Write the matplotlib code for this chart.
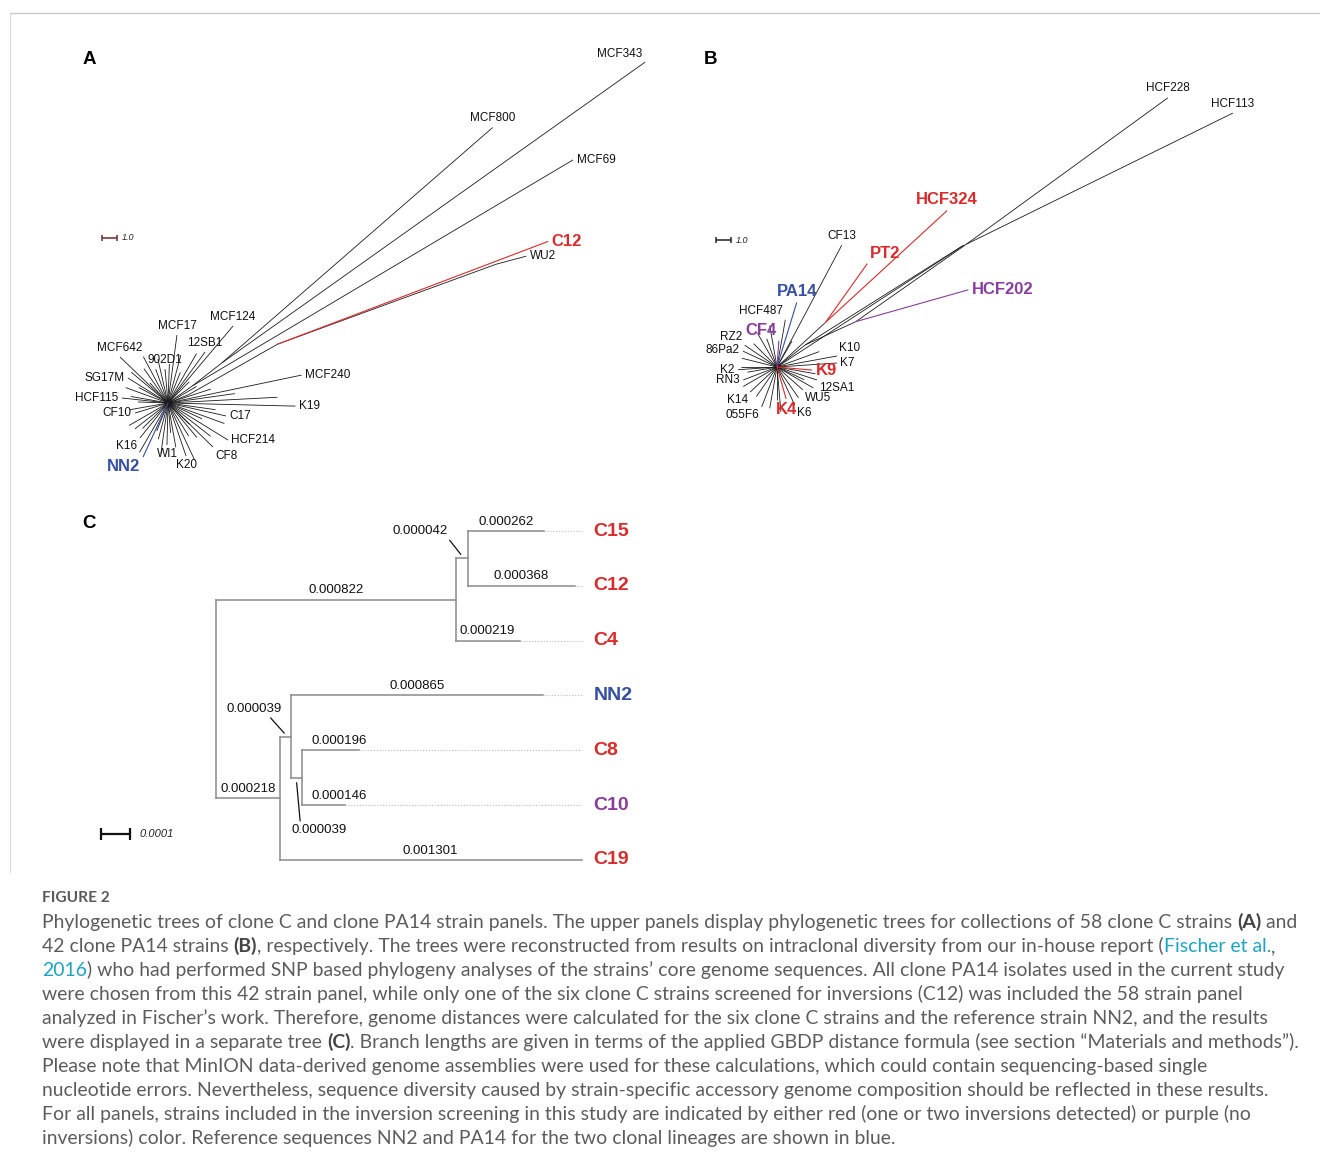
import numpy as np
import matplotlib
matplotlib.use("Agg")
import matplotlib.pyplot as plt

# ---------------------------------------------------------------- data
# Panel A: unrooted tree, 58 clone C strains. (node, parent, angle deg, branch length)
A_EDGES = [
    ("iL", "root", 35.0, 2.0), ("iM", "iL", 38.0, 2.5),
    ("MCF800", "iM", 41.0, 23.9), ("MCF343", "iM", 35.4, 34.6),
    ("MCF69", "iL", 30.7, 29.5),
    ("iC", "root", 22.0, 1.5), ("iC2", "iC", 29.6, 6.8),
    ("C12", "iC2", 20.8, 19.3), ("iW", "iC2", 20.1, 15.5), ("WU2", "iW", 15.0, 2.1),
    ("MCF240", "root", 11.8, 9.1), ("K19", "root", -1.4, 8.5),
    ("C17", "root", -12.6, 3.96), ("HCF214", "root", -31.7, 4.7),
    ("CF8", "root", -44.4, 4.2), ("K20", "root", -71.2, 3.73),
    ("WI1", "root", -91.4, 2.8), ("NN2", "root", -114.8, 3.97),
    ("K16", "root", -128.7, 2.99), ("CF10", "root", -163.0, 2.3),
    ("HCF115", "root", 173.8, 3.09), ("SG17M", "root", 148.0, 3.15),
    ("MCF642", "root", 136.2, 4.43), ("902D1", "root", 95.0, 2.27),
    ("MCF17", "root", 82.5, 4.57), ("12SB1", "root", 54.0, 4.2),
    ("MCF124", "root", 49.8, 6.72), ("_a1", "root", 3.0, 7.3),
]
A_UNL_ANG = [170, 160, 152, 140, 125, 118, 110, 103, 88, 75, 68, 60, 45, 18, 8, -8, -20, -25,
             -38, -50, -58, -65, -80, -85, -98, -105, -120, -135, -142, -150, -170, 178, 132,
             -112, -45, 30]
A_UNL_LEN = [2.5, 3.0, 2.2, 3.2, 2.8, 3.5, 2.4, 3.0, 2.6, 3.3, 2.2, 3.8, 2.0, 3.0, 4.5, 3.2, 4.0,
             2.5, 3.6, 3.0, 2.6, 4.2, 3.0, 2.0, 3.4, 2.5, 3.8, 2.4, 2.8, 3.0, 2.6, 2.0, 1.8, 2.0,
             2.0, 2.2]
A_RED = ["C12"]
A_BLUE = ["NN2"]
A_PURPLE = []

# Panel B: unrooted tree, 42 clone PA14 strains
B_EDGES = [
    ("b1", "root", 38.0, 2.4), ("b2", "b1", 24.7, 3.7), ("HCF202", "b2", 15.8, 7.8),
    ("b3", "b2", 35.0, 9.0), ("HCF228", "b3", 36.0, 16.6), ("HCF113", "b3", 26.2, 19.8),
    ("_u1", "b1", 32.2, 12.4), ("_u2", "root", 33.1, 14.9),
    ("b6", "root", 42.6, 4.4), ("PT2", "b6", 54.6, 4.8), ("HCF324", "b6", 42.6, 11.0),
    ("CF13", "root", 62.0, 9.2), ("PA14", "root", 73.0, 4.5), ("HCF487", "root", 80.0, 3.2),
    ("CF4", "root", 86.0, 1.75), ("RZ2", "root", 146.0, 2.6), ("86Pa2", "root", 166.0, 2.4),
    ("K2", "root", -176.0, 2.6), ("RN3", "root", -159.0, 2.4), ("K14", "root", -137.0, 2.45),
    ("055F6", "root", -111.0, 2.85), ("K4", "root", -74.0, 2.2), ("K6", "root", -65.0, 2.8),
    ("WU5", "root", -41.5, 2.3), ("12SA1", "root", -18.0, 2.8), ("K9", "root", -5.0, 2.34),
    ("K7", "root", 3.8, 4.0), ("K10", "root", 10.4, 4.07),
]
B_UNL_ANG = [120, 110, 100, 135, 155, 180, -170, -150, -125, -100, -90, -85, -55, -30, -25, 20, 60, -10]
B_UNL_LEN = [2.6, 2.0, 2.8, 2.2, 2.5, 2.4, 2.0, 2.6, 2.4, 2.8, 2.2, 3.0, 2.5, 2.8, 2.0, 3.0, 2.0, 2.6]
B_RED = ["HCF324", "PT2", "K9", "K4"]
B_BLUE = ["PA14"]
B_PURPLE = ["CF4", "HCF202"]

# Panel C: rooted tree (name, branch length, children)
C_TREE = ("root", 0.0, [
    ("n1", 0.000822, [
        ("n2", 0.000042, [("C15", 0.000262, []), ("C12", 0.000368, [])]),
        ("C4", 0.000219, []),
    ]),
    ("n3", 0.000218, [
        ("n4", 0.000039, [
            ("NN2", 0.000865, []),
            ("n5", 0.000039, [("C8", 0.000196, []), ("C10", 0.000146, [])]),
        ]),
        ("C19", 0.001301, []),
    ]),
])
C_RED = ["C15", "C12", "C4", "C8", "C19"]
C_BLUE = ["NN2"]
C_PURPLE = ["C10"]
C_ALIGN = 0.001254          # tip labels aligned here (longer branches truncated)
C_SCALE_BAR = 0.0001
AB_SCALE_BAR = 1.0

CAPTION_LINES = [
    [("Phylogenetic trees of clone C and clone PA14 strain panels. The upper panels display phylogenetic trees for collections of 58 clone C strains ", "n"), ("(A)", "b"), (" and", "n")],
    [("42 clone PA14 strains ", "n"), ("(B)", "b"), (", respectively. The trees were reconstructed from results on intraclonal diversity from our in-house report (", "n"), ("Fischer et al.", "l"), (",", "n")],
    [("2016", "l"), (") who had performed SNP based phylogeny analyses of the strains\u2019 core genome sequences. All clone PA14 isolates used in the current study", "n")],
    [("were chosen from this 42 strain panel, while only one of the six clone C strains screened for inversions (C12) was included the 58 strain panel", "n")],
    [("analyzed in Fischer\u2019s work. Therefore, genome distances were calculated for the six clone C strains and the reference strain NN2, and the results", "n")],
    [("were displayed in a separate tree ", "n"), ("(C)", "b"), (". Branch lengths are given in terms of the applied GBDP distance formula (see section \u201cMaterials and methods\u201d).", "n")],
    [("Please note that MinION data-derived genome assemblies were used for these calculations, which could contain sequencing-based single", "n")],
    [("nucleotide errors. Nevertheless, sequence diversity caused by strain-specific accessory genome composition should be reflected in these results.", "n")],
    [("For all panels, strains included in the inversion screening in this study are indicated by either red (one or two inversions detected) or purple (no", "n")],
    [("inversions) color. Reference sequences NN2 and PA14 for the two clonal lineages are shown in blue.", "n")],
]

# ---------------------------------------------------------------- style
W, H, DPI = 1320, 1167, 100
RED, BLUE, PURPLE = "#dc2a2a", "#3550a4", "#8a3d9e"
TREE_FONT = ["Liberation Sans", "DejaVu Sans"]
CAP_FONT = ["Lato", "DejaVu Sans"]

LABEL_ANCHOR_A = {"MCF343": "NW", "MCF800": "N", "MCF69": "E", "C12": "E", "WU2": "E",
                  "MCF240": "E", "K19": "E", "C17": "E", "HCF214": "E", "CF8": "SE",
                  "K20": "S", "WI1": "S", "NN2": "SW", "K16": "SW", "CF10": "W",
                  "HCF115": "W", "SG17M": "W", "MCF642": "N", "902D1": "N", "MCF17": "N",
                  "12SB1": "N", "MCF124": "N"}
LABEL_ANCHOR_B = {"HCF228": "N", "HCF113": "N", "HCF324": "N", "PT2": "NE", "CF13": "N",
                  "HCF202": "E", "PA14": "N", "HCF487": "NW", "CF4": "NW", "RZ2": "NW",
                  "86Pa2": "NW", "K2": "W", "RN3": "W", "K14": "SW", "055F6": "SW", "K4": "S",
                  "K6": "SE", "WU5": "SE", "12SA1": "SE", "K9": "E", "K7": "E", "K10": "NE"}
COMPASS = {"N": (0, 1, "center", "bottom"), "S": (0, -1, "center", "top"),
           "E": (1, 0, "left", "center"), "W": (-1, 0, "right", "center"),
           "NE": (0.7, 0.7, "left", "bottom"), "NW": (-0.7, 0.7, "right", "bottom"),
           "SE": (0.7, -0.7, "left", "top"), "SW": (-0.7, -0.7, "right", "top")}

fig = plt.figure(figsize=(W / DPI, H / DPI), dpi=DPI)
fig.patch.set_facecolor("white")


def FX(x):
    return x / W


def FY(y):
    return 1 - y / H


def pixel_axes(left, top, width, height, ox, oy, sx, sy, y_down=False):
    """Axes over a pixel box; data origin at pixel (ox, oy), sx/sy pixels per unit."""
    ax = fig.add_axes([FX(left), FY(top + height), width / W, height / H])
    ax.set_xlim((left - ox) / sx, (left + width - ox) / sx)
    if y_down:
        ax.set_ylim((top + height - oy) / sy, (top - oy) / sy)
    else:
        ax.set_ylim((oy - top - height) / sy, (oy - top) / sy)
    ax.set_axis_off()
    return ax


def color_of(name, red, blue, purple):
    if name in red:
        return RED
    if name in blue:
        return BLUE
    if name in purple:
        return PURPLE
    return None


def draw_unrooted(ax, edges, unl_ang, unl_len, anchors, red, blue, purple, lc):
    pos = {"root": np.zeros(2)}
    parents = set(p for _, p, _, _ in edges)
    for node, parent, ang, length in edges:
        a = np.deg2rad(ang)
        pos[node] = pos[parent] + length * np.array([np.cos(a), np.sin(a)])
    for ang, length in zip(unl_ang, unl_len):
        a = np.deg2rad(ang)
        ax.plot([0, length * np.cos(a)], [0, length * np.sin(a)], color=lc, lw=0.6,
                solid_capstyle="butt", zorder=2)
    for node, parent, ang, length in edges:
        c = color_of(node, red, blue, purple)
        p0, p1 = pos[parent], pos[node]
        ax.plot([p0[0], p1[0]], [p0[1], p1[1]], color=c or lc, lw=0.8 if c else 0.6,
                solid_capstyle="butt", zorder=3 if c else 2)
        if node in parents or node.startswith("_"):
            continue
        dx, dy, ha, va = COMPASS[anchors[node]]
        if c:
            ax.annotate(node, xy=p1, xytext=(dx * 2.5, dy * 2.5), textcoords="offset points",
                        ha=ha, va=va, fontsize=12, fontweight="bold", color=c,
                        family=TREE_FONT, annotation_clip=False)
        else:
            ax.annotate(node, xy=p1, xytext=(dx * 2.5, dy * 2.5), textcoords="offset points",
                        ha=ha, va=va, fontsize=8.5, color="#111111", family=TREE_FONT,
                        annotation_clip=False)


def scale_bar_unrooted(ax, x, y, color):
    ax.plot([x, x + AB_SCALE_BAR], [y, y], color=color, lw=1.1, solid_capstyle="butt")
    for xx in (x, x + AB_SCALE_BAR):
        ax.plot([xx, xx], [y - 0.22, y + 0.22], color=color, lw=1.1, solid_capstyle="butt")
    ax.text(x + AB_SCALE_BAR + 0.35, y, f"{AB_SCALE_BAR:.1f}", fontsize=6.5, style="italic",
            ha="left", va="center", color="#222222", family=TREE_FONT)


# ---------------------------------------------------------------- panel A
SA = 15.0  # pixels per unit
axA = pixel_axes(40, 20, 650, 480, 168, 403, SA, SA)
draw_unrooted(axA, A_EDGES, A_UNL_ANG, A_UNL_LEN, LABEL_ANCHOR_A, A_RED, A_BLUE, A_PURPLE, "#1a1a1a")
scale_bar_unrooted(axA, (102 - 168) / SA, (403 - 238) / SA, "#6e2b2b")

# ---------------------------------------------------------------- panel B
axB = pixel_axes(690, 20, 620, 470, 777, 367, SA, SA)
draw_unrooted(axB, B_EDGES, B_UNL_ANG, B_UNL_LEN, LABEL_ANCHOR_B, B_RED, B_BLUE, B_PURPLE, "#1a1a1a")
scale_bar_unrooted(axB, (716 - 777) / SA, (367 - 240) / SA, "#222222")

# ---------------------------------------------------------------- panel C
SCX = 291600.0   # pixels per substitution unit
SCY = 54.83      # pixels per tip
axC = pixel_axes(80, 505, 600, 375, 216, 531, SCX, SCY, y_down=True)
CLINE = "#8a8a8a"

nodes = {}
leaves = []


def layout(node, x0):
    name, L, kids = node
    x1 = x0 + L
    if not kids:
        y = float(len(leaves))
        leaves.append(name)
    else:
        ys = [layout(k, x1) for k in kids]
        y = (ys[0] + ys[-1]) / 2
    nodes[name] = dict(x0=x0, x1=x1, y=y, L=L, kids=[k[0] for k in kids])
    return y


layout(C_TREE, 0.0)

CALLOUT = {  # label centre offset, leader start on label (relpos), leader end (pixels)
    "n2": dict(text=(-42, -27), rel=(1.0, 0.0), tip=(-1, -4)),
    "n4": dict(text=(-31, -27.5), rel=(0.75, 0.0), tip=(-1, -3.5)),
    "n5": dict(text=(22, 52), rel=(0.17, 1.0), tip=(0, 5)),
}

for name, nd in nodes.items():
    y = nd["y"]
    if nd["kids"]:
        ys = [nodes[k]["y"] for k in nd["kids"]]
        axC.plot([nd["x1"], nd["x1"]], [min(ys), max(ys)], color=CLINE, lw=1.1,
                 solid_capstyle="projecting")
    if name == "root":
        continue
    xe = min(nd["x1"], C_ALIGN)
    axC.plot([nd["x0"], xe], [y, y], color=CLINE, lw=1.1, solid_capstyle="projecting")
    if not nd["kids"]:
        if xe < C_ALIGN:
            axC.plot([xe, C_ALIGN], [y, y], color="#b8b8b8", lw=0.8, ls=(0, (1, 1.6)))
        axC.annotate(name, xy=(C_ALIGN, y), xytext=(8.5, 0), textcoords="offset points",
                     ha="left", va="center", fontsize=14, fontweight="bold",
                     color=color_of(name, C_RED, C_BLUE, C_PURPLE), family=TREE_FONT)
    lab = f"{nd['L']:.6f}"
    if name in CALLOUT:
        co = CALLOUT[name]
        mx = (nd["x0"] + xe) / 2
        tip = (mx + co["tip"][0] / SCX, y + co["tip"][1] / SCY)
        off = ((co["text"][0] - co["tip"][0]) * 0.72, -(co["text"][1] - co["tip"][1]) * 0.72)
        axC.annotate(lab, xy=tip, xytext=off, textcoords="offset points", ha="center",
                     va="center", fontsize=9.5, color="#111111", family=TREE_FONT,
                     arrowprops=dict(arrowstyle="-", color="#111111", lw=0.9,
                                     relpos=co["rel"], shrinkA=0, shrinkB=0))
    elif nd["L"] < 0.0002:
        axC.annotate(lab, xy=(nd["x0"], y), xytext=(6.5, 2.5), textcoords="offset points",
                     ha="left", va="bottom", fontsize=9.5, color="#111111", family=TREE_FONT)
    else:
        axC.annotate(lab, xy=((nd["x0"] + xe) / 2, y), xytext=(0, 2.5),
                     textcoords="offset points", ha="center", va="bottom", fontsize=9.5,
                     color="#111111", family=TREE_FONT)

# scale bar C
sbx, sby = (101 - 216) / SCX, (834 - 531) / SCY
axC.plot([sbx, sbx + C_SCALE_BAR], [sby, sby], color="#111111", lw=1.6, solid_capstyle="butt")
for xx in (sbx, sbx + C_SCALE_BAR):
    axC.plot([xx, xx], [sby - 0.11, sby + 0.11], color="#111111", lw=1.6, solid_capstyle="butt")
axC.annotate(f"{C_SCALE_BAR:.4f}", xy=(sbx + C_SCALE_BAR, sby), xytext=(7, 0),
             textcoords="offset points", ha="left", va="center", fontsize=8, style="italic",
             color="#222222", family=TREE_FONT)

# ---------------------------------------------------------------- panel letters and frame
for letter, x, y in (("A", 83, 60), ("B", 704, 60), ("C", 82, 523)):
    fig.text(FX(x), FY(y), letter, fontsize=13.5, fontweight="bold", ha="left", va="center",
             color="#000000", family=TREE_FONT)

fig.add_artist(plt.Line2D([FX(10), FX(W)], [FY(12.5), FY(12.5)], color="#c8c8c8", lw=1.0))
fig.add_artist(plt.Line2D([FX(10.5), FX(10.5)], [FY(12.5), FY(872)], color="#dcdcdc", lw=0.8))

# ---------------------------------------------------------------- caption
renderer = fig.canvas.get_renderer()
STYLES = {"n": dict(color="#5c5c5c", fontweight="normal"),
          "b": dict(color="#444444", fontweight="bold"),
          "l": dict(color="#1ba3c6", fontweight="normal")}


def seg_width(s, size, style):
    kw = dict(fontsize=size, family=CAP_FONT, **STYLES[style])
    t1 = fig.text(0, 0, "|" + s + "|", **kw)
    t2 = fig.text(0, 0, "||", **kw)
    w = t1.get_window_extent(renderer).width - t2.get_window_extent(renderer).width
    t1.remove()
    t2.remove()
    return w


base = 12.0
w1 = sum(seg_width(s, base, st) for s, st in CAPTION_LINES[0])
cap_size = base * (1297 - 42) / w1

fig.text(FX(42), FY(902), "FIGURE 2", fontsize=cap_size * 0.8, family=CAP_FONT,
         color="#5a5a5a", fontweight="bold", ha="left", va="baseline")

for i, line in enumerate(CAPTION_LINES):
    x = 42.0
    yb = 928 + 24 * i
    for s, st in line:
        fig.text(FX(x), FY(yb), s, fontsize=cap_size, family=CAP_FONT, ha="left",
                 va="baseline", **STYLES[st])
        x += seg_width(s, cap_size, st)

fig.savefig("out.png", dpi=DPI, facecolor="white")
